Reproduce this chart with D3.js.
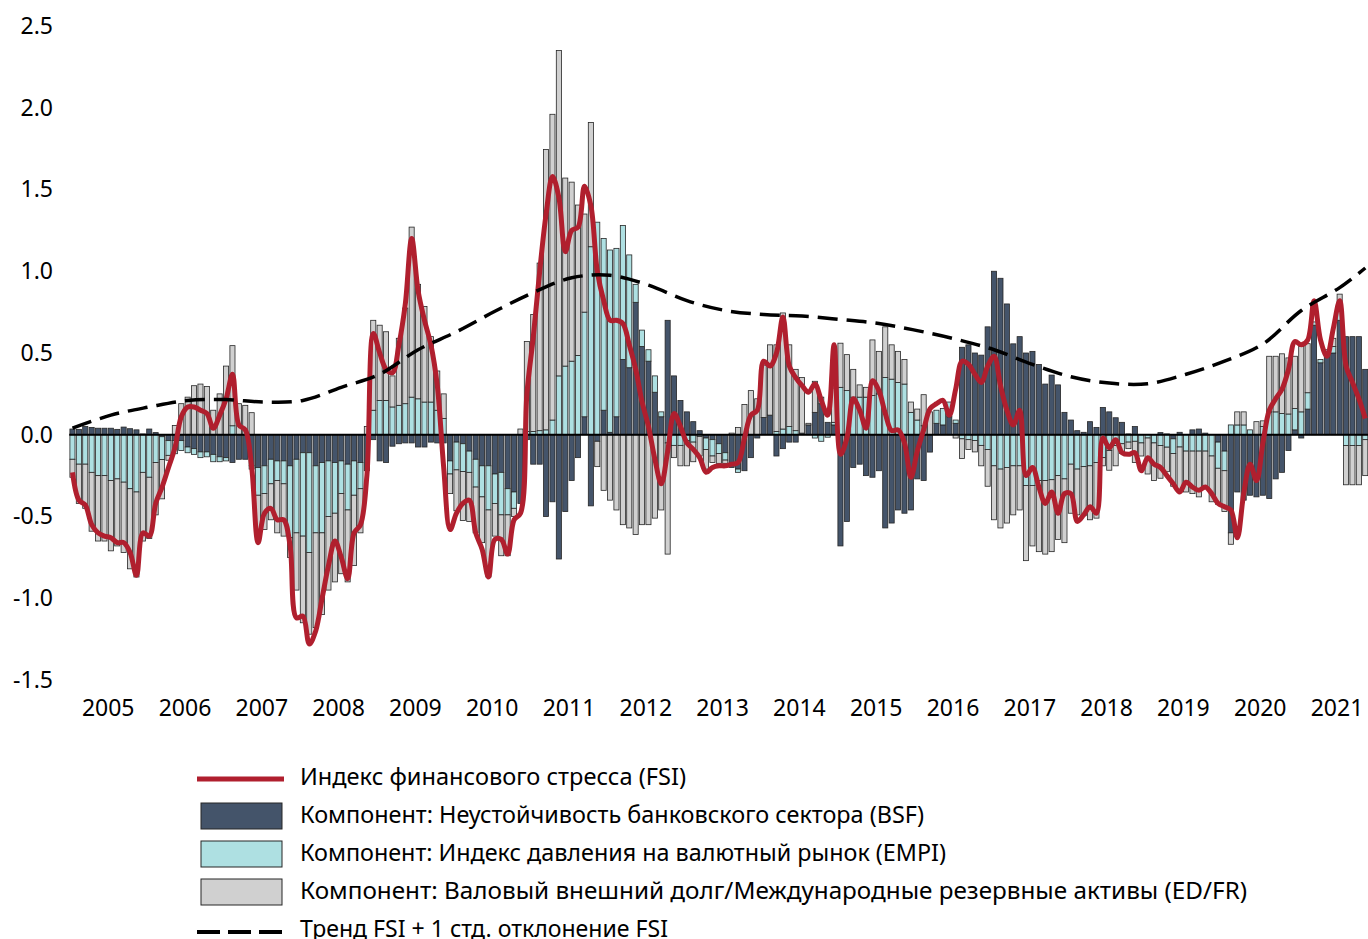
<!DOCTYPE html>
<html>
<head>
<meta charset="utf-8">
<title>Индекс финансового стресса (FSI)</title>
<script src="https://cdn.jsdelivr.net/npm/d3@7"></script>
<style>
  body { margin: 0; background: #fff; }
  text { font-family: "Noto Sans", sans-serif; fill: #000; }
</style>
</head>
<body>
<script>
// monthly data, Jan 2005 .. Nov 2021 (one row per year)
var years = d3.range(2005, 2022);

var bsf = [
  0.035, 0.033, 0.05, 0.045, 0.04, 0.04, 0.04, 0.033, 0.047, 0.037, 0.03, 0.005,
  0.035, 0.013, -0.012, -0.036, -0.036, -0.036, -0.075, -0.085, -0.105, -0.105, -0.12, -0.135,
  -0.14, -0.17, -0.15, -0.15, -0.19, -0.2, -0.19, -0.15, -0.16, -0.16, -0.19, -0.15,
  -0.11, -0.11, -0.19, -0.17, -0.16, -0.17, -0.16, -0.18, -0.16, -0.17, -0.22, -0.03,
  -0.16, -0.17, -0.07, -0.055, -0.05, -0.05, -0.075, -0.075, -0.045, -0.05, -0.05, -0.16,
  -0.045, -0.055, -0.1, -0.15, -0.19, -0.19, -0.24, -0.23, -0.33, -0.35, -0.42, -0.03,
  -0.18, -0.18, -0.5, -0.41, -0.76, -0.47, -0.28, -0.14, 0.11, -0.435, -0.04, 0.15,
  0.015, 0.11, 0.46, 0.41, 0.81, 0.54, 0.45, 0.26, 0.11, 0.70, 0.36, 0.21,
  0.14, 0.08, 0.025, -0.02, -0.03, -0.055, -0.11, -0.2, -0.21, -0.22, -0.14, -0.02,
  0.106, 0.12, -0.13, -0.085, -0.045, -0.045, 0.01, 0.06, 0.137, 0.19, 0.076, 0.06,
  -0.68, -0.53, -0.2, -0.18, -0.25, -0.26, -0.22, -0.57, -0.54, -0.46, -0.48, -0.46,
  -0.27, -0.28, -0.106, 0.07, 0.06, 0.11, 0.07, 0.535, 0.55, 0.5, 0.487, 0.66,
  1.0, 0.957, 0.8, 0.556, 0.6, 0.5, 0.51, 0.43, 0.31, 0.365, 0.305, 0.137,
  0.09, 0.025, 0.015, 0.08, 0.045, 0.167, 0.14, 0.104, 0.076, 0.005, 0.05, 0.0,
  0.0, 0.0, 0.013, 0.005, -0.025, 0.015, 0.0, 0.03, 0.035, 0.01, 0.0, -0.045,
  -0.1, -0.6, -0.35, -0.4, -0.37, -0.38, -0.37, -0.39, -0.27, -0.23, -0.096, 0.03,
  -0.02, 0.157, 0.67, 0.44, 0.49, 0.5, 0.7, 0.6, 0.6, 0.6, 0.4
];

var empi = [
  -0.15, -0.18, -0.18, -0.23, -0.25, -0.25, -0.28, -0.27, -0.29, -0.33, -0.35, -0.23,
  -0.26, -0.17, -0.14, -0.09, -0.08, -0.06, -0.035, -0.035, -0.035, -0.03, -0.045, -0.03,
  -0.02, 0.055, 0, 0, -0.02, -0.17, -0.17, -0.15, -0.12, -0.14, -0.44, -0.45,
  -0.51, -0.61, -0.41, -0.43, -0.34, -0.31, -0.2, -0.28, -0.21, -0.16, 0, 0.15,
  0.21, 0.21, 0.17, 0.18, 0.19, 0.23, 0.22, 0.2, 0.2, 0.15, 0.1, -0.08,
  -0.17, -0.17, -0.13, -0.17, -0.19, -0.27, -0.18, -0.26, -0.16, -0.1, 0, 0.02,
  0.02, 0.025, 0.03, 0.09, 0.36, 0.42, 0.45, 0.485, 0.64, 1.15, 1.30, 1.05,
  1.115, 1.03, 0.82, 0.69, 0.11, 0.10, 0.07, 0.10, 0.03, -0.05, -0.065, -0.065,
  -0.035, -0.045, -0.01, -0.07, -0.1, -0.06, -0.045, 0, -0.02, 0, 0, 0,
  0, 0, 0.02, 0.035, 0.05, 0.025, 0, 0, -0.02, -0.04, -0.015, 0.016,
  0.29, 0.27, 0.23, 0.23, 0.23, 0.24, 0.25, 0.35, 0.34, 0.32, 0.31, 0.137,
  0.09, 0.055, 0, 0.08, 0.1, 0.09, 0.02, -0.025, -0.03, -0.035, -0.065, -0.09,
  -0.19, -0.21, -0.2, -0.19, -0.19, -0.31, -0.31, -0.28, -0.28, -0.275, -0.25, -0.27,
  -0.18, -0.21, -0.195, -0.19, -0.17, -0.14, -0.097, -0.066, -0.055, -0.045, -0.04, -0.05,
  -0.02, -0.05, -0.066, -0.076, -0.09, -0.075, -0.1, -0.1, -0.1, -0.1, -0.13, -0.16,
  -0.12, 0.06, 0.06, 0.06, 0.03, 0, 0.05, 0.14, 0.14, 0.13, 0.127, 0.13,
  0.14, 0.1, 0.02, 0.02, 0.03, 0.04, 0.06, -0.066, -0.066, -0.066, -0.03
];

var edfr = [
  -0.11, -0.24, -0.27, -0.36, -0.40, -0.40, -0.43, -0.41, -0.43, -0.49, -0.52, -0.42,
  -0.375, -0.32, -0.24, -0.03, 0.057, 0.19, 0.23, 0.30, 0.31, 0.295, 0.15, 0.25,
  0.42, 0.49, 0.19, 0.18, 0.135, -0.24, -0.22, -0.22, -0.32, -0.32, -0.12, -0.35,
  -0.53, -0.5, -0.58, -0.5, -0.45, -0.42, -0.49, -0.44, -0.43, -0.27, 0.05, 0.55,
  0.46, 0.42, 0.19, 0.41, 0.585, 1.04, 0.70, 0.585, 0.4, 0.24, 0.15, -0.12,
  -0.25, -0.3, -0.3, -0.28, -0.28, -0.41, -0.2, -0.25, -0.25, -0.05, 0.035, 0.55,
  0.715, 1.025, 1.715, 1.87, 1.99, 1.15, 1.095, 0.92, 0.6, 0.76, -0.155, -0.34,
  -0.40, -0.46, -0.55, -0.57, -0.61, -0.55, -0.55, -0.51, -0.46, -0.68, -0.075, -0.125,
  -0.155, -0.12, -0.12, -0.12, -0.04, -0.06, -0.02, 0.01, 0.045, 0.185, 0.27, 0.22,
  0.32, 0.43, 0.53, 0.71, 0.5, 0.375, 0.34, 0.01, 0.19, 0.04, 0, 0.21,
  0.27, 0.22, 0.17, 0.075, 0.06, 0.34, 0.26, 0.31, 0.21, 0.19, 0.15, 0.063,
  0.067, 0.19, 0.14, 0, 0, 0, -0.02, -0.12, -0.06, -0.07, -0.125, -0.225,
  -0.33, -0.36, -0.34, -0.3, -0.27, -0.46, -0.37, -0.435, -0.45, -0.44, -0.39, -0.39,
  -0.3, -0.28, -0.3, -0.33, -0.34, -0.05, -0.12, -0.124, -0.06, -0.04, -0.13, -0.08,
  -0.22, -0.23, -0.2, -0.15, -0.2, -0.27, -0.25, -0.26, -0.28, -0.22, -0.28, -0.22,
  -0.25, -0.07, 0.08, 0.08, 0, 0.08, 0.035, 0.34, 0.34, 0.365, 0.343, 0.32,
  0.4, 0.3, 0, 0, 0, 0.05, 0.1, -0.24, -0.24, -0.24, -0.22
];

var fsi = [
  -0.23, -0.40, -0.43, -0.55, -0.60, -0.62, -0.63, -0.66, -0.66, -0.72, -0.86, -0.60,
  -0.62, -0.42, -0.32, -0.2, -0.08, 0.11, 0.17, 0.17, 0.15, 0.13, 0.04, 0.12,
  0.22, 0.37, 0.06, 0.03, -0.2, -0.66, -0.48, -0.45, -0.52, -0.52, -0.68, -1.12,
  -1.11, -1.28, -1.2, -1.0, -0.8, -0.65, -0.75, -0.88, -0.6, -0.55, -0.25, 0.62,
  0.5, 0.4, 0.38, 0.55, 0.8, 1.2, 0.88, 0.7, 0.55, 0.3, -0.2, -0.58,
  -0.48, -0.42, -0.4, -0.6, -0.7, -0.87, -0.64, -0.64, -0.73, -0.52, -0.48, 0.25,
  0.6, 1.0, 1.35, 1.58, 1.45, 1.12, 1.25, 1.27, 1.52, 1.4, 1.0, 0.82,
  0.7, 0.7, 0.68, 0.55, 0.4, 0.2, 0.05, -0.15, -0.3, -0.1, 0.13, 0.05,
  -0.05, -0.09, -0.14, -0.23, -0.2, -0.19, -0.19, -0.18, -0.17, -0.02, 0.12, 0.15,
  0.45, 0.42, 0.5, 0.72, 0.42, 0.35, 0.3, 0.26, 0.31, 0.21, 0.12, 0.55,
  -0.12, -0.02, 0.22, 0.15, 0.04, 0.33, 0.27, 0.13, 0.025, 0.03, -0.05, -0.26,
  -0.1, 0.03, 0.16, 0.19, 0.21, 0.12, 0.28, 0.45, 0.43, 0.37, 0.32, 0.42,
  0.48, 0.3, 0.15, 0.06, 0.15, -0.25, -0.2, -0.32, -0.42, -0.35, -0.48, -0.36,
  -0.36, -0.53, -0.49, -0.44, -0.48, -0.02, -0.08, -0.03, -0.11, -0.12, -0.11, -0.22,
  -0.14, -0.18, -0.2, -0.25, -0.3, -0.35, -0.29, -0.32, -0.34, -0.32, -0.36, -0.42,
  -0.44, -0.46, -0.63, -0.36, -0.18, -0.28, -0.05, 0.15, 0.22, 0.28, 0.4, 0.57,
  0.55, 0.58, 0.82, 0.58, 0.48, 0.65, 0.82, 0.42, 0.32, 0.22, 0.1
];

// trend FSI + 1 std, read every 6 months
var trendMonth = [0, 6, 12, 18, 24, 30, 36, 42, 48, 54, 60, 66, 72, 78, 84, 90, 96, 102, 108, 114,
                  120, 126, 132, 138, 144, 150, 156, 162, 168, 174, 180, 186, 192, 198, 202];
var trendValue = [0.04, 0.12, 0.17, 0.21, 0.215, 0.2, 0.21, 0.29, 0.37, 0.52, 0.63, 0.755, 0.87, 0.96, 0.975, 0.915, 0.82, 0.76, 0.735, 0.726,
                  0.705, 0.68, 0.637, 0.585, 0.52, 0.43, 0.355, 0.316, 0.312, 0.37, 0.45, 0.555, 0.76, 0.90, 1.02];

var yTicks = [-1.5, -1.0, -0.5, 0.0, 0.5, 1.0, 1.5, 2.0, 2.5];

var legendLabels = [
  "Индекс финансового стресса (FSI)",
  "Компонент: Неустойчивость банковского сектора (BSF)",
  "Компонент: Индекс давления на валютный рынок (EMPI)",
  "Компонент: Валовый внешний долг/Международные резервные активы (ED/FR)",
  "Тренд FSI + 1 стд. отклонение FSI"
];
var legendWidths = [386, 624, 646, 947, 368];

var colors = { bsf: "#44546a", empi: "#aee0e2", edfr: "#d0d0d0" };
var fsiColor = "#b01f2e";

var width = 1368, height = 939;
var n = fsi.length;

var svg = d3.select("body").append("svg")
    .attr("width", width)
    .attr("height", height);

// scales
var x = d3.scaleLinear().domain([0, n]).range([69.3, 1368.5]);
var y = d3.scaleLinear().domain([-1.5, 2.5]).range([680, 26]);
var step = x(1) - x(0);

// stacked bars (positive up, negative down)
var rows = fsi.map(function(v, i) {
  return { i: i, bsf: bsf[i], empi: empi[i], edfr: edfr[i] };
});
var series = d3.stack()
    .keys(["bsf", "empi", "edfr"])
    .offset(d3.stackOffsetDiverging)(rows);

svg.append("g").selectAll("g")
  .data(series)
  .join("g")
    .attr("fill", function(d) { return colors[d.key]; })
  .selectAll("rect")
  .data(function(d) { return d; })
  .join("rect")
    .attr("x", function(d) { return x(d.data.i) + 0.6; })
    .attr("width", step - 1.3)
    .attr("y", function(d) { return y(Math.max(d[0], d[1])); })
    .attr("height", function(d) { return Math.abs(y(d[0]) - y(d[1])); })
    .attr("stroke", "#262626")
    .attr("stroke-width", 0.8);

// zero line
svg.append("line")
    .attr("x1", x(0)).attr("x2", x(n))
    .attr("y1", y(0)).attr("y2", y(0))
    .attr("stroke", "#000")
    .attr("stroke-width", 2);

// FSI line
var fsiLine = d3.line()
    .x(function(d, i) { return x(i + 0.5); })
    .y(function(d) { return y(d); })
    .curve(d3.curveCatmullRom.alpha(0.5));

svg.append("path")
    .datum(fsi)
    .attr("fill", "none")
    .attr("stroke", fsiColor)
    .attr("stroke-width", 5)
    .attr("stroke-linejoin", "round")
    .attr("d", fsiLine);

// trend line
var trendLine = d3.line()
    .x(function(d) { return x(d + 0.5); })
    .y(function(d, i) { return y(trendValue[i]); })
    .curve(d3.curveCatmullRom.alpha(0.5));

svg.append("path")
    .datum(trendMonth)
    .attr("fill", "none")
    .attr("stroke", "#000")
    .attr("stroke-width", 3.5)
    .attr("stroke-dasharray", "20,9")
    .attr("d", trendLine);

// y axis labels
var yAxis = svg.append("g")
    .attr("transform", "translate(56,0)")
    .call(d3.axisLeft(y).tickValues(yTicks).tickSize(0).tickPadding(3)
      .tickFormat(function(d) { return d.toFixed(1); }));
yAxis.select(".domain").remove();
yAxis.selectAll("text").style("font-size", "23px").style("font-family", "Noto Sans");

// x axis labels (centred on each year)
var xAxis = svg.append("g")
    .attr("transform", "translate(0,700)")
    .call(d3.axisBottom(x)
      .tickValues(years.map(function(yr, k) { return 12 * k + 6; }))
      .tickSize(0).tickPadding(0)
      .tickFormat(function(d) { return years[(d - 6) / 12]; }));
xAxis.select(".domain").remove();
xAxis.selectAll("text").style("font-size", "23px").style("font-family", "Noto Sans");

// legend
var legend = svg.append("g").attr("transform", "translate(0,777)");
var rowH = 38;

legend.append("line")
    .attr("x1", 197).attr("x2", 284).attr("y1", 2).attr("y2", 2)
    .attr("stroke", fsiColor).attr("stroke-width", 5);

["bsf", "empi", "edfr"].forEach(function(k, j) {
  legend.append("rect")
      .attr("x", 201).attr("y", (j + 1) * rowH - 12)
      .attr("width", 81).attr("height", 26)
      .attr("fill", colors[k])
      .attr("stroke", "#262626").attr("stroke-width", 1);
});

legend.append("line")
    .attr("x1", 197).attr("x2", 284).attr("y1", 4 * rowH + 3).attr("y2", 4 * rowH + 3)
    .attr("stroke", "#000").attr("stroke-width", 4)
    .attr("stroke-dasharray", "23,8");

legend.selectAll("text.lab")
  .data(legendLabels)
  .join("text")
    .attr("class", "lab")
    .attr("x", 300)
    .attr("y", function(d, i) { return i * rowH; })
    .attr("dy", "0.36em")
    .attr("textLength", function(d, i) { return legendWidths[i]; })
    .attr("lengthAdjust", "spacingAndGlyphs")
    .style("font-size", "23px")
    .text(function(d) { return d; });
</script>
</body>
</html>
